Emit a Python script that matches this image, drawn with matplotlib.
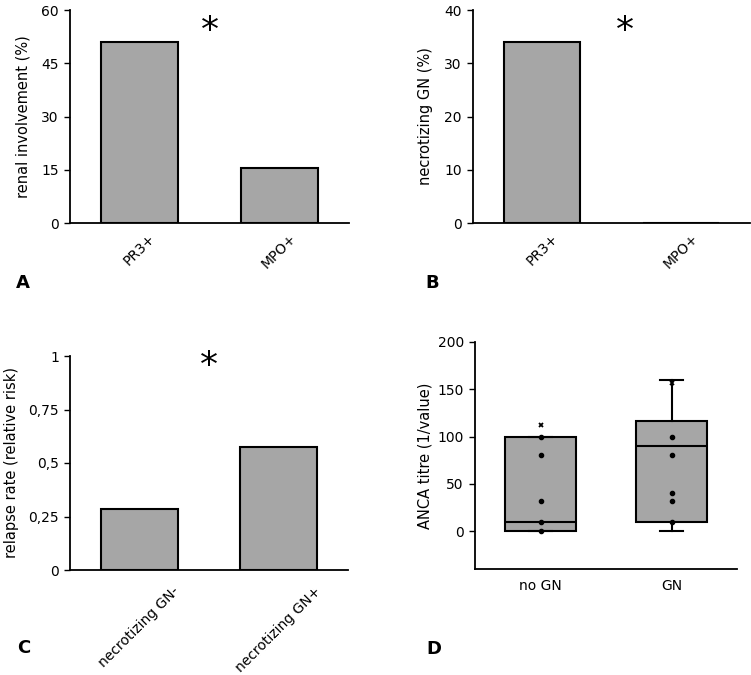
import matplotlib
matplotlib.use("Agg")
import matplotlib.pyplot as plt

plt.rcParams['font.family'] = ['DejaVu Sans']

# ---- data ----
a_categories = ["PR3+", "MPO+"]
a_values = [51.0, 15.6]
a_yticks = [0, 15, 30, 45, 60]

b_categories = ["PR3+", "MPO+"]
b_values = [34.0, 0.0]
b_yticks = [0, 10, 20, 30, 40]

c_categories = ["necrotizing GN-", "necrotizing GN+"]
c_values = [0.285, 0.575]
c_yticks = [0, 0.25, 0.5, 0.75, 1]
c_yticklabels = ["0", "0,25", "0,5", "0,75", "1"]

d_categories = ["no GN", "GN"]
d_stats = [
    dict(whislo=0, q1=0, med=10, q3=100, whishi=100),
    dict(whislo=0, q1=10, med=90, q3=116, whishi=160),
]
d_points = [[0, 10, 32, 80, 100], [10, 32, 40, 80, 100]]
d_extremes = [[112], [157]]
d_yticks = [0, 50, 100, 150, 200]

BAR = "#a6a6a6"
W, H = 751, 675
fig = plt.figure(figsize=(W / 100, H / 100), dpi=100)


def add_ax(l, t, r, b):
    return fig.add_axes([l / W, 1 - b / H, (r - l) / W, (b - t) / H])


def style(ax):
    for s in ("top", "right"):
        ax.spines[s].set_visible(False)
    for s in ("left", "bottom"):
        ax.spines[s].set_linewidth(1.3)
        ax.spines[s].set_color("black")
    ax.tick_params(axis="y", length=4, width=1, labelsize=10, pad=4)
    ax.tick_params(axis="x", length=0, labelsize=10)


def bar_panel(ax, cats, vals, yticks, ylim, ylabel, lx, xpad):
    x = list(range(len(cats)))
    ax.bar(x, vals, width=0.55, color=BAR, edgecolor="black", linewidth=1.5, zorder=2)
    ax.set_xlim(-0.5, 1.5)
    ax.set_ylim(*ylim)
    ax.set_yticks(yticks)
    ax.set_xticks(x)
    ax.set_xticklabels(cats, rotation=45, ha="center", va="top")
    style(ax)
    ax.tick_params(axis="x", pad=xpad)
    ax.set_ylabel(ylabel, fontsize=10.5, va="center")
    ax.yaxis.set_label_coords(lx, 0.5)


axA = add_ax(70, 10, 349, 223)
bar_panel(axA, a_categories, a_values, a_yticks, (0, 60), "renal involvement (%)", -0.168, 6)
axA.text(0.5, 54, "*", fontsize=26, ha="center", va="center")

axB = add_ax(473, 10, 750, 223)
bar_panel(axB, b_categories, b_values, b_yticks, (0, 40), "necrotizing GN (%)", -0.173, 6)
axB.text(0.6, 36, "*", fontsize=26, ha="center", va="center")

axC = add_ax(70, 356, 348, 570)
bar_panel(axC, c_categories, c_values, c_yticks, (0, 1), "relapse rate (relative risk)", -0.209, 10)
axC.set_yticklabels(c_yticklabels)
axC.text(0.5, 0.955, "*", fontsize=26, ha="center", va="center", clip_on=False)

axD = add_ax(475, 342, 737, 569)
style(axD)
stats = [dict(s, label=c, fliers=[]) for s, c in zip(d_stats, d_categories)]
axD.bxp(stats, positions=[1, 2], widths=0.54, patch_artist=True, showfliers=False,
        capwidths=0.17,
        boxprops=dict(facecolor=BAR, edgecolor="black", linewidth=1.5),
        medianprops=dict(color="black", linewidth=1.5),
        whiskerprops=dict(color="black", linewidth=1.5),
        capprops=dict(color="black", linewidth=1.5))
for i, (pts, ex) in enumerate(zip(d_points, d_extremes)):
    axD.plot([i + 1] * len(pts), pts, "o", color="black", ms=3, zorder=3)
    axD.plot([i + 1] * len(ex), ex, "x", color="black", ms=3.5, mew=1.3, zorder=3)
axD.set_xlim(0.5, 2.5)
axD.set_ylim(-40, 200)
axD.set_yticks(d_yticks)
axD.set_xticks([1, 2])
axD.set_xticklabels(d_categories)
axD.tick_params(axis="x", pad=7)
axD.set_ylabel("ANCA titre (1/value)", fontsize=10.5, va="center")
axD.yaxis.set_label_coords(-0.19, 0.5)

for lab, (x, y) in zip("ABCD", [(23, 283), (432, 283), (24, 648), (434, 649)]):
    fig.text(x / W, 1 - y / H, lab, fontsize=13, fontweight="bold", ha="center", va="center")

fig.savefig("out.png", dpi=100)
